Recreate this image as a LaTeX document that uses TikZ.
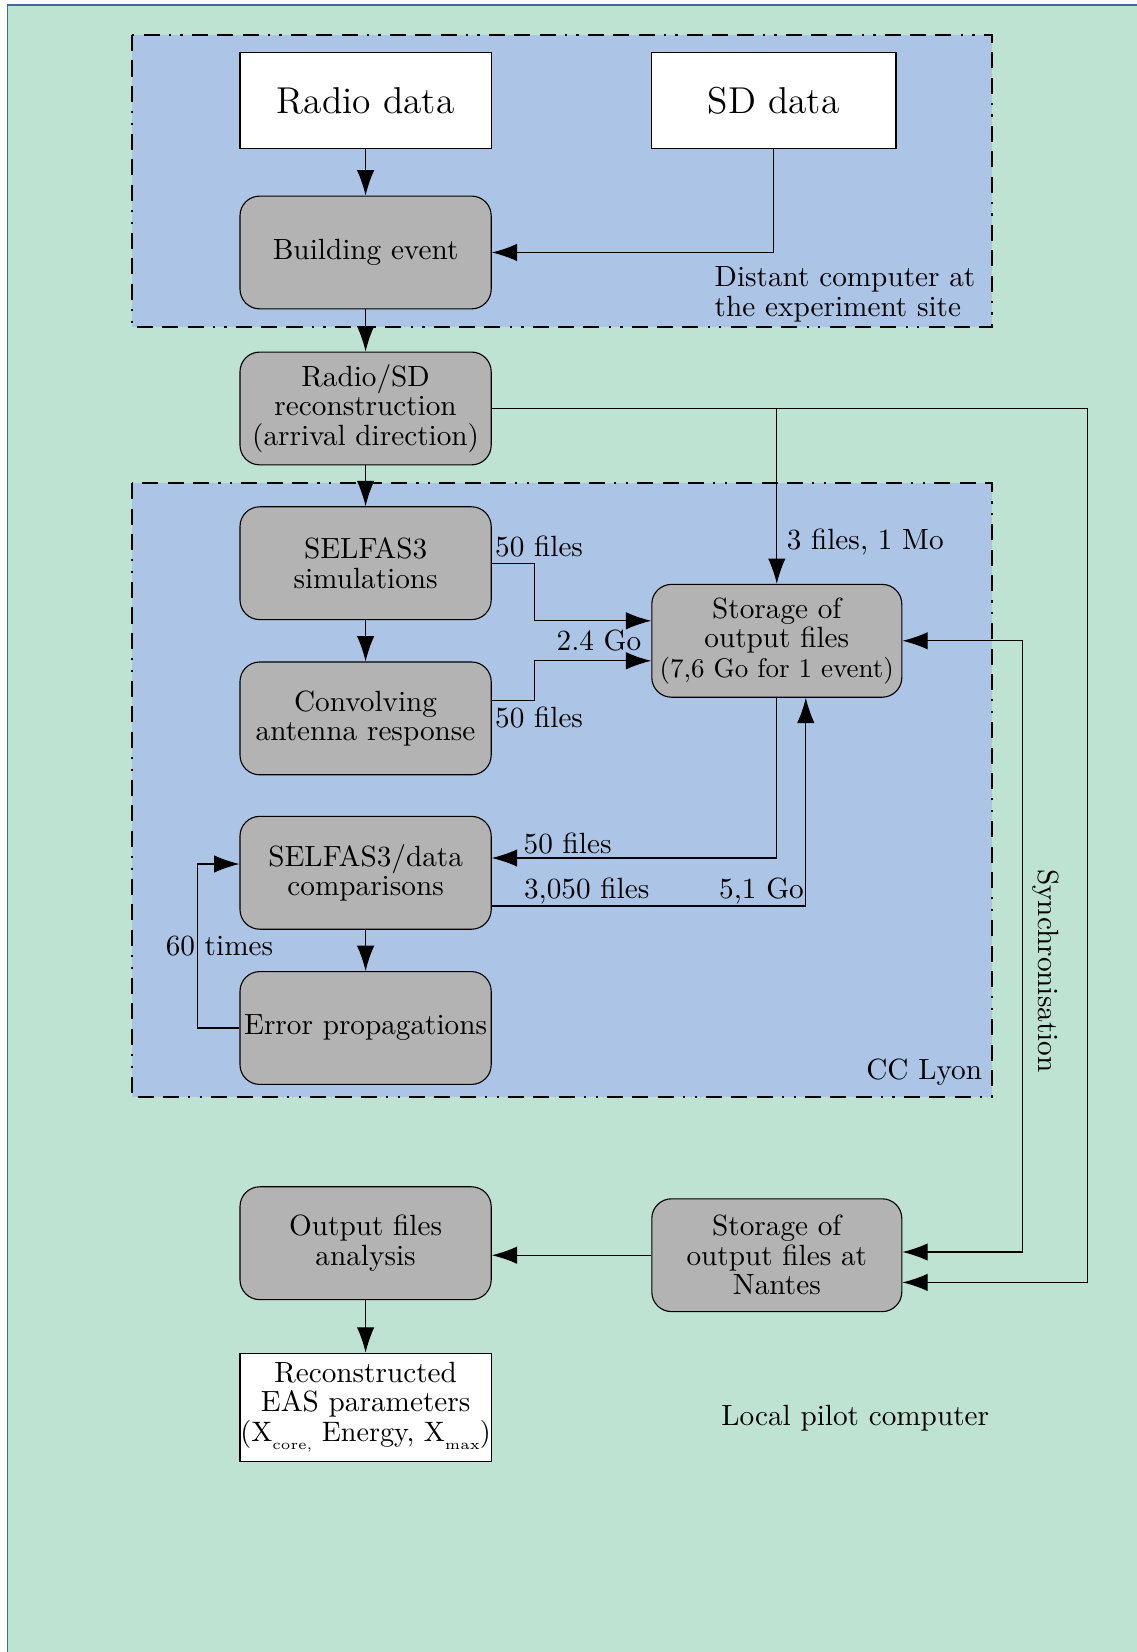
\documentclass[tikz,border=0pt]{standalone}
\usepackage{tikz}
\usetikzlibrary{arrows.meta}

\definecolor{pilotgreen}{RGB}{190,227,211}
\definecolor{siteblue}{RGB}{172,196,230}
\definecolor{procgray}{RGB}{179,179,179}
\definecolor{frameblue}{RGB}{68,104,164}

\newcommand{\tinysub}[1]{\raisebox{-0.7ex}{\fontsize{5}{6}\selectfont #1}}

\tikzset{
  procbox/.style={draw, fill=procgray, rounded corners=7pt, align=center,
    minimum width=3.14cm, minimum height=1.41cm, inner sep=1pt},
  databox/.style={draw, fill=white, align=center, inner sep=1pt},
  sitebox/.style={draw, fill=siteblue, line width=0.7pt,
    dash pattern=on 5.7pt off 3.3pt on 5.7pt off 3.3pt on 5.7pt off 3.3pt
      on 0.8pt off 3.3pt on 0.8pt off 3.3pt},
  flowlbl/.style={inner xsep=1pt, inner ysep=2pt},
}

\begin{document}
\begin{tikzpicture}[>={Latex[length=9pt,width=6.2pt]},
    font=\fontsize{10.4}{10.5}\selectfont]
  \useasboundingbox (0,0) rectangle (14.2125,-20.65);
  % Local pilot computer (background).
  \fill[pilotgreen] (0.094,-0.0625) rectangle (14.2125,-20.65);
  \draw[frameblue, line width=0.5pt] (0.094,-20.65) |- (14.2125,-0.0625);
  % The two remote sites.
  \draw[sitebox] (1.65,-0.44) rectangle (12.4,-4.09);
  \draw[sitebox] (1.65,-6.04) rectangle (12.4,-13.71);
  \node[anchor=west, align=left] (distant) at (8.81,-3.68)
    {Distant computer at\\the experiment site};
  \node[anchor=east] (lyon) at (12.4,-13.4) {CC Lyon};
  \node (pilot) at (10.69,-17.725) {Local pilot computer};

  % Boxes.
  \node[databox, minimum width=3.14cm, minimum height=1.19cm,
    font=\fontsize{13.3}{15}\selectfont] (radio) at (4.57,-1.256) {Radio data};
  \node[databox, minimum width=3.06cm, minimum height=1.19cm,
    font=\fontsize{13.3}{15}\selectfont] (sd) at (9.67,-1.256) {SD data};
  \node[procbox] (building) at (4.57,-3.156) {Building event};
  \node[procbox] (reco) at (4.57,-5.106)
    {Radio/SD\\reconstruction\\(arrival direction)};
  \node[procbox] (sim) at (4.57,-7.04) {SELFAS3\\simulations};
  \node[procbox] (conv) at (4.57,-8.98) {Convolving\\antenna response};
  \node[procbox, minimum width=3.125cm] (store) at (9.71,-8.01)
    {Storage of\\output files\\{\fontsize{9.6}{10}\selectfont(7,6 Go for 1 event)}};
  \node[procbox] (data) at (4.57,-10.91) {SELFAS3/data\\comparisons};
  \node[procbox] (error) at (4.57,-12.85) {Error propagations};
  \node[procbox] (output) at (4.57,-15.54) {Output files\\analysis};
  \node[procbox, minimum width=3.125cm] (nantes) at (9.71,-15.69)
    {Storage of\\output files at\\Nantes};
  \node[databox, inner xsep=0pt, minimum width=3.14cm, minimum height=1.35cm] (recon)
    at (4.57,-17.59) {Reconstructed\\EAS parameters\\{\fontsize{10}{10.5}\selectfont
      (X\tinysub{core,} Energy, X\tinysub{max})}};

  % Connectors.
  \coordinate (farright) at (13.59,-16.03);
  \draw[->] (radio) -- (building);
  \draw[->] (sd.south) |- (building.east);
  \draw[->] (building) -- (reco);
  \draw[->] (reco) -- (sim);
  \draw[->] (reco.east) -| (farright) -- ([yshift=-0.34cm]nantes.east);
  \draw[->] (reco.east -| store.north) -- (store.north)
    node[pos=0.76, right] {3 files, 1 Mo};
  \draw[->] (sim) -- (conv);
  \draw[->] (sim.east) node[above right, flowlbl] {50 files}
    -- ++(0.53,0) |- ([yshift=0.25cm]store.west);
  \draw[->] ([yshift=0.22cm]conv.east) node[below right, flowlbl] {50 files}
    -- ++(0.53,0) |- ([yshift=-0.25cm]store.west) node[above left] {2.4 Go};
  \draw[->] (store.south) |- ([yshift=0.185cm]data.east)
    node[pos=0.95, above right, flowlbl, inner ysep=1pt] {50 files};
  \draw[->] ([yshift=-0.415cm]data.east) -| ([xshift=0.3625cm]store.south)
    node[pos=0.046, above right, flowlbl, inner ysep=0.5pt] {3,050 files}
    node[pos=0.5, above left, inner xsep=0.5pt, inner ysep=0.5pt] {5,1 Go};
  \draw[->] (data) -- (error);
  \draw[->] (error.west) -- ++(-0.525,0) |- ([yshift=0.11cm]data.west)
    node[pos=0.25, xshift=0.275cm] {60 times};
  \draw[<->] (store.east) -- ++(1.5,0) |- ([yshift=0.04cm]nantes.east)
    node[pos=0.27, rotate=-90, anchor=south] {Synchronisation};
  \draw[->] (nantes.west) -- (nantes.west -| output.east);
  \draw[->] (output) -- (recon);
\end{tikzpicture}
\end{document}
